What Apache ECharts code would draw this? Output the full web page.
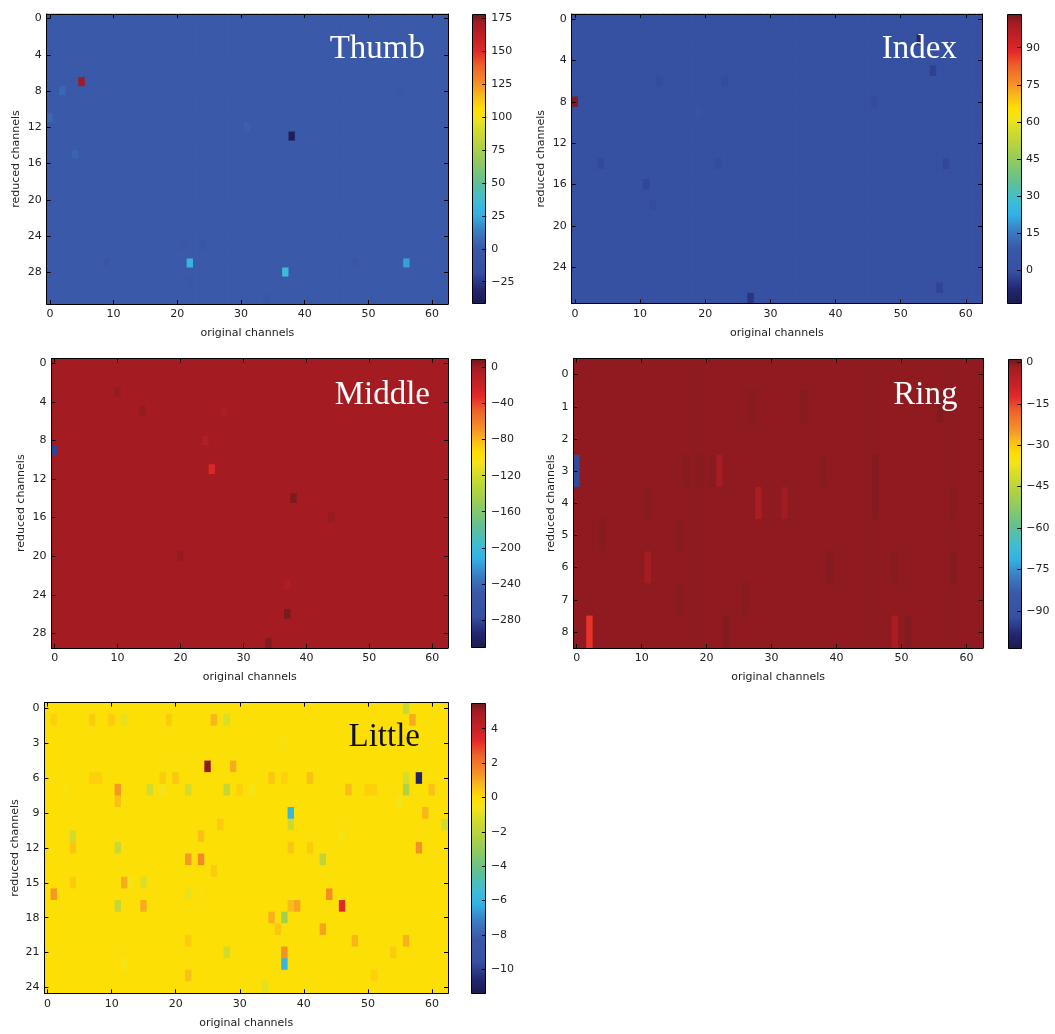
<!DOCTYPE html>
<html>
<head>
<meta charset="utf-8">
<script src="https://cdn.jsdelivr.net/npm/echarts@6/dist/echarts.min.js"></script>
<style>
html,body{margin:0;padding:0;background:#fff;}
#chart{width:1055px;height:1034px;}
</style>
</head>
<body>
<div id="chart"></div>
<script>
// ---------------- DATA ----------------
// original channels 0..62 (x categories)
const channelCount = 63;
const xCategories = Array.from({length: channelCount}, (_, i) => String(i));

// Thumb: 32 reduced channels, near-uniform background with a few outliers [x, y, value]
const thumbRows = 32;
const thumbBase = 0;
const thumbCells = [
  [5, 7, 172], [38, 13, -38], [22, 27, 30], [37, 28, 36], [56, 27, 22],
  [2, 8, 6], [0, 11, 6], [4, 15, 4], [31, 12, 3], [9, 27, -5], [48, 27, -5],
  [21, 25, -4], [24, 25, -3], [55, 8, -3], [34, 31, -3], [22, 29, -3]
];
const thumbRange = [-41.9, 178.3];
const thumbTicks = [-25, 0, 25, 50, 75, 100, 125, 150, 175];

// Index: 28 reduced channels
const indexRows = 28;
const indexBase = 0;
const indexCells = [
  [0, 8, 102], [53, 2, -8], [55, 5, -3], [19, 9, 3], [27, 27, -5], [56, 26, -2.5],
  [57, 14, -2], [4, 14, -1.5], [11, 16, -2], [12, 18, -1], [23, 6, -1], [13, 6, -1],
  [46, 8, -1], [22, 14, -1]
];
const indexRange = [-13.3, 103.6];
const indexTicks = [0, 15, 30, 45, 60, 75, 90];

// Middle: 30 reduced channels
const middleRows = 30;
const middleBase = 0;
const middleCells = [
  [0, 9, -282], [25, 11, -28], [38, 14, 7], [37, 26, 8], [34, 29, 6], [24, 8, -7],
  [37, 23, -5], [14, 5, 3], [27, 5, -3], [10, 3, 3], [44, 16, 3], [20, 20, 3]
];
const middleRange = [-311, 10];
const middleTicks = [-280, -240, -200, -160, -120, -80, -40, 0];

// Ring: 9 reduced channels
const ringRows = 9;
const ringBase = -0.6;
const ringCells = [
  [0, 3, -93], [2, 8, -13], [49, 8, -3], [28, 4, -2.6], [22, 3, -2], [11, 6, -2],
  [23, 8, 0.1], [51, 8, 0.1], [21, 3, -0.1], [56, 1, 0.1], [27, 1, -0.1], [35, 1, -0.1],
  [11, 4, -0.1], [46, 4, 0], [58, 4, -0.1], [39, 6, 0], [49, 6, -0.1], [58, 6, 0],
  [17, 3, -0.1], [19, 3, -0.1], [38, 3, -0.1], [46, 3, 0], [4, 5, -0.1], [16, 5, -0.1],
  [16, 7, -0.1], [26, 7, -0.1], [32, 4, -1.6]
];
const ringRange = [-103.5, 1.45];
const ringTicks = [-90, -75, -60, -45, -30, -15, 0];

// Little: 25 reduced channels
const littleRows = 25;
const littleBase = -0.1;
const littleCells = [
  [25, 5, 5.2], [58, 6, -10.8], [38, 9, -5.8], [38, 10, -1.5], [37, 22, -5.9], [37, 21, 1.4],
  [46, 17, 3.4], [44, 16, 1.5], [37, 18, -2.6], [39, 17, 1.1], [38, 17, 0.7], [43, 19, 1.1],
  [35, 18, 0.9], [48, 20, 0.8], [56, 20, 0.9], [58, 12, 1.4], [59, 9, 0.8], [57, 1, 1.0],
  [56, 0, -1.6], [56, 7, -2.2], [56, 6, -1.2], [55, 8, -0.6], [60, 7, 0.6], [47, 7, 0.7],
  [62, 10, -1.4], [43, 13, -1.9], [46, 11, -0.6], [38, 12, 0.5], [41, 12, 0.4], [41, 6, 0.6],
  [35, 6, 0.5], [37, 6, 0.3], [29, 5, 1.0], [26, 1, 0.8], [28, 1, -1.1], [12, 1, -0.9],
  [11, 7, 1.3], [11, 8, 0.6], [16, 7, -1.3], [18, 7, -0.6], [22, 7, -1.3], [28, 7, -1.7],
  [32, 7, -0.5], [3, 7, -0.3], [4, 11, -1.3], [4, 12, 0.5], [11, 12, -1.6], [22, 13, 1.3],
  [24, 13, 1.6], [24, 11, 0.6], [26, 14, 0.4], [1, 16, 1.3], [12, 15, 1.0], [13, 15, -0.5],
  [15, 15, -1.1], [4, 15, 0.4], [22, 16, -0.8], [24, 16, -0.3], [11, 17, -1.7], [15, 17, 1.0],
  [28, 21, -1.4], [12, 22, -0.6], [22, 23, 0.6], [22, 20, 0.4], [34, 24, -0.9], [54, 21, 0.4],
  [51, 23, 0.3], [36, 19, 0.5], [37, 3, -0.4], [20, 5, -0.3], [20, 6, 0.5], [18, 6, 0.4],
  [7, 6, 0.3], [8, 6, 0.3], [7, 1, 0.4], [10, 1, 0.4], [19, 1, 0.4], [1, 1, 0.3],
  [27, 10, 0.4], [30, 7, 0.3], [50, 7, 0.3], [51, 7, 0.3]
];
const littleRange = [-11.4, 5.51];
const littleTicks = [-10, -8, -6, -4, -2, 0, 2, 4];

// ---------------- COLORMAP (jet, as printed) ----------------
const jetStops = [
  [0.00, '#1b1a4c'], [0.05, '#232670'], [0.11, '#3650a2'], [0.19, '#3a58a8'],
  [0.25, '#3a7cc2'], [0.31, '#33b2e6'], [0.36, '#40bdd2'], [0.42, '#60c093'],
  [0.53, '#a9d046'], [0.60, '#d4dc2a'], [0.64, '#f3e418'], [0.675, '#fede02'],
  [0.72, '#f9b81a'], [0.76, '#f49026'], [0.82, '#ee6328'], [0.87, '#e4292a'],
  [0.91, '#c82226'], [0.97, '#a31c22'], [1.00, '#6a1a1e']
];
function hexToRgb(h){ return [parseInt(h.slice(1,3),16), parseInt(h.slice(3,5),16), parseInt(h.slice(5,7),16)]; }
function paletteAt(t){
  t = Math.max(0, Math.min(1, t));
  for (let i = 1; i < jetStops.length; i++) {
    if (t <= jetStops[i][0]) {
      const [p0, c0] = jetStops[i-1], [p1, c1] = jetStops[i];
      const f = (t - p0) / (p1 - p0), a = hexToRgb(c0), b = hexToRgb(c1);
      return 'rgb(' + a.map((v, k) => Math.round(v + (b[k] - v) * f)).join(',') + ')';
    }
  }
  return jetStops[jetStops.length-1][1];
}
const palette = Array.from({length: 256}, (_, i) => paletteAt(i / 255));
const gradientStops = jetStops.map(([p, c]) => ({offset: 1 - p, color: c})).reverse();

function buildMatrix(rows, base, cells){
  const over = new Map();
  cells.forEach(([x, y, v]) => over.set(x + ',' + y, v));
  const out = [];
  for (let y = 0; y < rows; y++) for (let x = 0; x < channelCount; x++) {
    const k = x + ',' + y;
    out.push([x, y, over.has(k) ? over.get(k) : base]);
  }
  return out;
}

// ---------------- LAYOUT ----------------
const panels = [
  {title: 'Thumb', rows: thumbRows, base: thumbBase, cells: thumbCells, range: thumbRange, ticks: thumbTicks, step: 4,
   grid: {left: 46.7, top: 14, width: 401.3, height: 290}, cbar: {left: 472, top: 14, width: 14.3, height: 290},
   tpos: {right: 630, top: 33}, tcolor: '#ffffff', nameGap: 25},
  {title: 'Index', rows: indexRows, base: indexBase, cells: indexCells, range: indexRange, ticks: indexTicks, step: 4,
   grid: {left: 571.7, top: 14, width: 410.4, height: 289.5}, cbar: {left: 1006.5, top: 14, width: 14.5, height: 289.5},
   tpos: {right: 98, top: 33}, tcolor: '#ffffff', nameGap: 25},
  {title: 'Middle', rows: middleRows, base: middleBase, cells: middleCells, range: middleRange, ticks: middleTicks, step: 4,
   grid: {left: 51.5, top: 358.5, width: 396.5, height: 289.3}, cbar: {left: 471.3, top: 358.5, width: 14.6, height: 289.3},
   tpos: {right: 625, top: 379}, tcolor: '#ffffff', nameGap: 25},
  {title: 'Ring', rows: ringRows, base: ringBase, cells: ringCells, range: ringRange, ticks: ringTicks, step: 1,
   grid: {left: 573.4, top: 358.5, width: 409.4, height: 289.5}, cbar: {left: 1007.5, top: 358.5, width: 13.8, height: 289.5},
   tpos: {right: 97.6, top: 379}, tcolor: '#ffffff', nameGap: 17},
  {title: 'Little', rows: littleRows, base: littleBase, cells: littleCells, range: littleRange, ticks: littleTicks, step: 3,
   grid: {left: 44.4, top: 702.7, width: 403.6, height: 290.6}, cbar: {left: 470.7, top: 702.7, width: 15.2, height: 290.6},
   tpos: {right: 635, top: 721}, tcolor: '#111111', nameGap: 24}
];

const FONT = 'DejaVu Sans';
const TXT = '#222222';
const option = {animation: false, backgroundColor: '#ffffff', title: [], grid: [], xAxis: [], yAxis: [], visualMap: [], series: []};

panels.forEach((p) => {
  const baseColor = paletteAt((p.base - p.range[0]) / (p.range[1] - p.range[0]));
  const gPlot = option.grid.length;
  option.grid.push(Object.assign({containLabel: false, show: true, backgroundColor: baseColor, borderWidth: 0}, p.grid));
  const gBar = option.grid.length;
  option.grid.push(Object.assign({containLabel: false}, p.cbar));

  const rowCats = Array.from({length: p.rows}, (_, i) => String(i));
  const xTickFn = (i) => i % 10 === 0;
  const yTickFn = (i) => i % p.step === 0;
  const tickStyle = {show: true, inside: true, length: 4, alignWithLabel: true, lineStyle: {color: '#000', width: 1}};
  const lineStyle = {show: true, lineStyle: {color: '#000', width: 1}};

  const xB = option.xAxis.length;
  option.xAxis.push({
    gridIndex: gPlot, type: 'category', data: xCategories, position: 'bottom', z: 10,
    axisLine: lineStyle, axisTick: Object.assign({interval: xTickFn}, tickStyle),
    axisLabel: {interval: xTickFn, margin: 5, fontSize: 11, fontFamily: FONT, color: TXT},
    splitLine: {show: false},
    name: 'original channels', nameLocation: 'middle', nameGap: 24,
    nameTextStyle: {fontSize: 11, fontFamily: FONT, color: TXT}
  });
  option.xAxis.push({
    gridIndex: gPlot, type: 'category', data: xCategories, position: 'top', z: 10,
    axisLine: lineStyle, axisTick: Object.assign({interval: xTickFn}, tickStyle),
    axisLabel: {show: false}, splitLine: {show: false}
  });
  const yL = option.yAxis.length;
  option.yAxis.push({
    gridIndex: gPlot, type: 'category', data: rowCats, inverse: true, position: 'left', z: 10,
    axisLine: lineStyle, axisTick: Object.assign({interval: yTickFn}, tickStyle),
    axisLabel: {interval: yTickFn, margin: 5, fontSize: 11, fontFamily: FONT, color: TXT},
    splitLine: {show: false},
    name: 'reduced channels', nameLocation: 'middle', nameGap: p.nameGap,
    nameTextStyle: {fontSize: 11, fontFamily: FONT, color: TXT}
  });
  option.yAxis.push({
    gridIndex: gPlot, type: 'category', data: rowCats, inverse: true, position: 'right', z: 10,
    axisLine: lineStyle, axisTick: Object.assign({interval: yTickFn}, tickStyle),
    axisLabel: {show: false}, splitLine: {show: false}
  });

  const xC = option.xAxis.length;
  option.xAxis.push({gridIndex: gBar, type: 'category', data: ['bar'], show: false, boundaryGap: true});
  const yC = option.yAxis.length;
  option.yAxis.push({
    gridIndex: gBar, type: 'value', min: p.range[0], max: p.range[1], position: 'right', z: 10,
    axisLine: {show: false},
    axisTick: {show: true, inside: true, length: 4, customValues: p.ticks, lineStyle: {color: '#000', width: 1}},
    axisLabel: {show: true, customValues: p.ticks, margin: 5, fontSize: 11, fontFamily: FONT, color: TXT,
                formatter: (v) => String(v).replace('-', '\u2212')},
    splitLine: {show: false}
  });

  const sIdx = option.series.length;
  option.series.push({
    type: 'heatmap', xAxisIndex: xB, yAxisIndex: yL,
    data: buildMatrix(p.rows, p.base, p.cells),
    progressive: 0, silent: true, emphasis: {disabled: true}
  });
  option.series.push({
    type: 'custom', xAxisIndex: xC, yAxisIndex: yC, silent: true,
    data: [[0, p.range[0], p.range[1]]],
    renderItem: (params, api) => {
      const top = api.coord([0, api.value(2)]);
      const bot = api.coord([0, api.value(1)]);
      const w = api.size([1, 0])[0];
      return {
        type: 'rect',
        shape: {x: Math.round(top[0] - w / 2) + 0.5, y: Math.round(top[1]) + 0.5, width: Math.round(w) - 1, height: Math.round(bot[1] - top[1]) - 1},
        style: {fill: new echarts.graphic.LinearGradient(0, 0, 0, 1, gradientStops), stroke: '#000', lineWidth: 1}
      };
    }
  });
  option.visualMap.push({
    type: 'continuous', show: false, min: p.range[0], max: p.range[1], dimension: 2,
    seriesIndex: sIdx, inRange: {color: palette}
  });
  option.title.push({
    text: p.title, right: p.tpos.right, top: p.tpos.top, padding: 0,
    textStyle: {color: p.tcolor, fontSize: 33, fontFamily: 'Liberation Serif', fontWeight: 'normal'}
  });
});

const chart = echarts.init(document.getElementById('chart'), null, {renderer: 'canvas'});
chart.setOption(option);
</script>
</body>
</html>
